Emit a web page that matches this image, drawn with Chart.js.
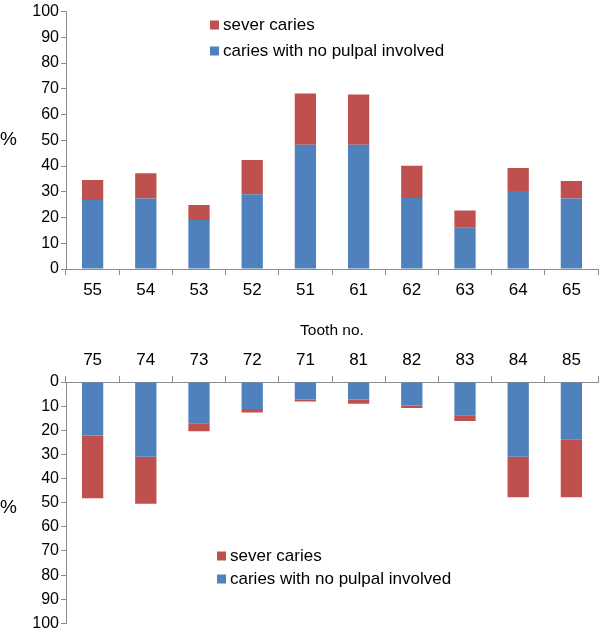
<!DOCTYPE html>
<html>
<head>
<meta charset="utf-8">
<script src="https://cdn.jsdelivr.net/npm/chart.js@4/dist/chart.umd.min.js"></script>
<style>
    html, body { margin: 0; padding: 0; background: #fff; }
    #wrap { position: relative; width: 600px; height: 635px; }
    .box { position: absolute; left: 0; width: 600px; }
</style>
</head>
<body>
<div id="wrap">
    <div class="box" style="top:0;height:345px"><canvas id="upperChart" width="600" height="345"></canvas></div>
    <div class="box" style="top:345px;height:290px"><canvas id="lowerChart" width="600" height="290"></canvas></div>
</div>
<script>
// upper jaw (top chart)
var upperTeeth = ['55', '54', '53', '52', '51', '61', '62', '63', '64', '65'];
var upperNoPulpal = [26.8, 27.4, 19.0, 29.0, 48.3, 48.3, 27.6, 16.0, 30.3, 27.4];
var upperSevere = [7.8, 9.8, 5.9, 13.3, 19.9, 19.5, 12.5, 6.7, 8.9, 6.8];

// lower jaw (bottom chart)
var lowerTeeth = ['75', '74', '73', '72', '71', '81', '82', '83', '84', '85'];
var lowerNoPulpal = [22.2, 31.0, 17.1, 11.2, 7.3, 7.3, 9.7, 13.8, 31.0, 23.7];
var lowerSevere = [26.0, 19.4, 3.3, 1.4, 0.8, 1.7, 1.1, 2.4, 16.7, 24.0];

var severeLabel = 'sever caries';
var noPulpalLabel = 'caries with no pulpal involved';
var xTitle = 'Tooth no.';
var percentLabel = '%';

var FONT = '"Liberation Sans", Arial, Helvetica, sans-serif';
var axisGray = '#8c8c8c';
var blue = '#4f81bd';
var red = '#c0504d';

Chart.defaults.font.family = FONT;
Chart.defaults.color = '#000';

// legend + "%" label drawn at fixed spots like the original
var cornerLegend = {
    id: 'cornerLegend',
    afterDraw: function (chart, args, opts) {
        var ctx = chart.ctx;
        ctx.save();
        ctx.font = '17px ' + FONT;
        ctx.textBaseline = 'middle';
        ctx.textAlign = 'left';
        var items = chart.data.datasets.slice().reverse();
        items.forEach(function (ds, i) {
            var y = opts.y + i * opts.gap;
            ctx.fillStyle = ds.backgroundColor;
            ctx.fillRect(opts.x, y - 4.5, 9, 9);
            ctx.fillStyle = '#000';
            ctx.fillText(ds.label, opts.x + 13, y);
        });
        ctx.font = '19px ' + FONT;
        ctx.fillText(percentLabel, 0, opts.pctY);
        ctx.restore();
    }
};

function buildChart(id, labels, noPulpal, severe, cfg) {
    var ctx = document.getElementById(id);
    return new Chart(ctx, {
        type: 'bar',
        data: {
            labels: labels,
            datasets: [{
                label: noPulpalLabel,
                data: noPulpal,
                backgroundColor: blue,
                borderWidth: 0,
                categoryPercentage: 0.4,
                barPercentage: 1
            }, {
                label: severeLabel,
                data: severe,
                backgroundColor: red,
                borderWidth: 0,
                categoryPercentage: 0.4,
                barPercentage: 1
            }]
        },
        options: {
            responsive: false,
            animation: false,
            layout: { padding: cfg.padding },
            plugins: {
                legend: { display: false },
                tooltip: { enabled: false },
                cornerLegend: cfg.legend
            },
            scales: {
                x: {
                    position: cfg.xPos,
                    stacked: true,
                    grid: {
                        display: true,
                        drawOnChartArea: false,
                        drawTicks: true,
                        tickLength: 6,
                        color: axisGray,
                        offset: true
                    },
                    border: { display: true, color: axisGray, width: 1 },
                    ticks: { color: '#000', font: { size: 17 }, padding: 5, maxRotation: 0 },
                    title: cfg.xTitle,
                    afterFit: function (s) { s.height = cfg.xHeight; }
                },
                y: {
                    stacked: true,
                    reverse: cfg.reverse,
                    min: 0,
                    max: 100,
                    ticks: { stepSize: 10, color: '#000', font: { size: 16 }, padding: 2 },
                    grid: { drawOnChartArea: false, drawTicks: true, tickLength: 5, color: axisGray },
                    border: { display: true, color: axisGray, width: 1 },
                    afterFit: function (s) { s.width = 66; }
                }
            }
        },
        plugins: [cornerLegend]
    });
}

buildChart('upperChart', upperTeeth, upperNoPulpal, upperSevere, {
    padding: { top: 9, right: 2, left: 0, bottom: 0 },
    xPos: 'bottom',
    xHeight: 76,
    reverse: false,
    xTitle: { display: true, text: xTitle, color: '#000', font: { size: 15.5 }, padding: { top: 0, bottom: 5 } },
    legend: { x: 210, y: 25, gap: 26, pctY: 140 }
});

buildChart('lowerChart', lowerTeeth, lowerNoPulpal, lowerSevere, {
    padding: { top: 0, right: 2, left: 0, bottom: 10 },
    xPos: 'top',
    xHeight: 37,
    reverse: true,
    xTitle: { display: false },
    legend: { x: 217, y: 211, gap: 23, pctY: 163 }
});
</script>
</body>
</html>
